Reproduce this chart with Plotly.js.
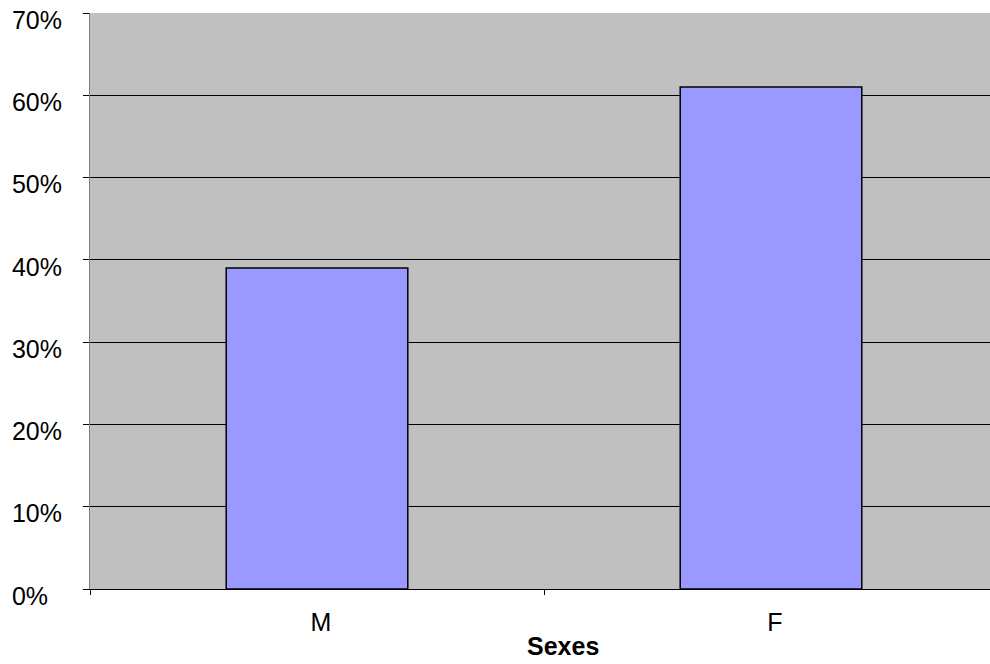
<!DOCTYPE html>
<html>
<head>
<meta charset="utf-8">
<script src="https://cdn.plot.ly/plotly-3.0.1.min.js"></script>
<style>
html,body{margin:0;padding:0;overflow:hidden;background:#fff;}
#chart{width:1000px;height:664px;}
</style>
</head>
<body>
<div id="chart"></div>
<script>
const categories = ["M", "F"];
const values = [39, 61];
const yTickVals = [0, 10, 20, 30, 40, 50, 60, 70];
const yTickText = ["0%\u2007", "10%", "20%", "30%", "40%", "50%", "60%", "70%"];
const xTitle = "Sexes";

const trace = {
  type: "bar",
  x: categories,
  y: values,
  width: 0.4,
  marker: {color: "#9999FF", line: {color: "#000000", width: 1.5}},
  hoverinfo: "x+y"
};

const layout = {
  width: 1000,
  height: 664,
  margin: {l: 90, r: 2, t: 13, b: 75, pad: 0},
  paper_bgcolor: "#FFFFFF",
  plot_bgcolor: "#C0C0C0",
  showlegend: false,
  font: {family: "Liberation Sans, Arial, sans-serif", size: 25, color: "#000000"},
  xaxis: {
    type: "category",
    tickson: "boundaries",
    ticks: "outside",
    ticklen: 5,
    tickcolor: "#000000",
    tickwidth: 1,
    showline: true,
    linecolor: "#000000",
    linewidth: 1,
    showgrid: false,
    zeroline: false,
    tickfont: {size: 25},
    ticklabelshift: 4,
    ticklabelstandoff: 11
  },
  yaxis: {
    range: [0, 70],
    tickvals: yTickVals,
    ticktext: yTickText,
    ticks: "outside",
    ticklen: 6,
    tickcolor: "#000000",
    tickwidth: 1,
    showline: true,
    linecolor: "#808080",
    linewidth: 1,
    showgrid: true,
    gridcolor: "#000000",
    gridwidth: 1,
    zeroline: false,
    tickfont: {size: 25},
    ticklabelstandoff: 16,
    ticklabelshift: 7
  },
  annotations: [{
    text: "<b>" + xTitle + "</b>",
    xref: "paper", yref: "paper",
    x: 0.521, y: -0.099,
    xanchor: "center", yanchor: "middle",
    showarrow: false,
    font: {size: 25, color: "#000000"}
  }]
};

Plotly.newPlot("chart", [trace], layout, {displayModeBar: false, staticPlot: true});
</script>
</body>
</html>
